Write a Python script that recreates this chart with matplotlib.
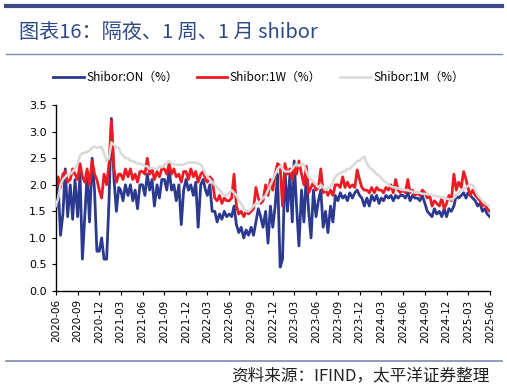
import matplotlib.pyplot as plt
import pandas as pd

plt.rcParams['font.family'] = ['Noto Sans CJK SC', 'DejaVu Sans']

# three readings per month (1st, 11th, 21st), 2020-06 .. 2025-05, plus 2025-06-01
on_rate = [
    1.55, 2.0, 1.05,  1.45, 2.3, 1.4,  2.0, 1.35, 2.1,  1.4, 2.2, 0.6,
    1.4, 2.2, 1.3,  2.5, 1.9, 0.75,  0.75, 1.0, 0.6,  0.6, 1.7, 3.25,
    2.1, 1.5, 1.95,  1.9, 1.7, 2.0,  1.8, 2.0, 1.7,  1.9, 1.55, 2.0,
    2.0, 1.8, 2.2,  1.9, 2.1, 1.6,  2.0, 1.75, 2.1,  2.1, 1.9, 2.3,
    1.9, 2.0, 1.7,  2.0, 1.25, 1.9,  2.1, 1.9, 2.0,  1.8, 2.05, 1.2,
    2.0, 2.1, 1.9,  1.8, 2.0, 1.5,  1.5, 1.3, 1.45,  1.35, 1.5, 1.4,
    1.45, 1.4, 1.6,  1.25, 1.1, 1.2,  1.0, 1.15, 1.05,  1.2, 1.05, 1.3,
    1.55, 1.4, 1.2,  1.5, 0.9, 1.6,  1.2, 1.6, 2.2,  0.45, 0.6, 2.3,
    1.5, 2.2, 1.3,  2.45, 1.6, 0.85,  1.9, 1.3, 2.2,  1.5, 1.0, 1.9,
    1.4, 1.7, 1.9,  1.2, 1.5, 1.1,  1.6, 1.3, 1.8,  1.7, 1.85, 1.75,
    1.8, 1.7, 1.85,  1.75, 1.85, 1.9,  1.8, 1.75, 1.6,  1.75, 1.6, 1.8,
    1.7, 1.8, 1.65,  1.75, 1.7, 1.8,  1.75, 1.8, 1.7,  1.8, 1.75, 1.8,
    1.8, 1.75, 1.85,  1.7, 1.8, 1.75,  1.75, 1.7, 1.8,  1.65, 1.5, 1.45,
    1.4, 1.55, 1.45,  1.5, 1.4, 1.55,  1.4, 1.55, 1.5,  1.6, 1.8, 1.75,
    1.8, 1.85, 1.75,  1.85, 1.8, 1.75,  1.7, 1.6, 1.65,  1.5, 1.55, 1.45,
    1.4,
]
w1_rate = [
    1.9, 2.15, 1.95,  2.2, 2.25, 2.05,  2.1, 2.3, 2.2,  2.1, 2.4, 2.15,
    2.05, 2.3, 2.0,  2.45, 2.2, 2.1,  1.9, 1.75, 2.2,  2.0, 2.4, 3.2,
    2.3, 2.05, 2.2,  2.2, 2.1, 2.3,  2.15, 2.3, 2.1,  2.2, 2.05, 2.25,
    2.25, 2.2, 2.5,  2.2, 2.3, 2.1,  2.25, 2.15, 2.3,  2.3, 2.2, 2.4,
    2.2, 2.3, 2.15,  2.2, 2.05, 2.25,  2.25, 2.1, 2.3,  2.15, 2.25, 2.05,
    2.2, 2.25, 2.1,  2.05, 2.15, 2.1,  1.75, 1.7, 1.8,  1.65, 1.75, 1.7,
    1.7, 1.75, 2.2,  1.6, 1.45, 1.5,  1.4, 1.5, 1.45,  1.5, 1.55, 1.95,
    1.75, 1.65, 1.7,  2.0, 1.8, 2.1,  1.9, 2.2, 2.4,  2.35, 1.6, 2.4,
    2.2, 2.3, 2.1,  2.35, 2.2, 2.45,  2.2, 2.0, 2.35,  1.85, 1.95, 2.05,
    1.9, 1.95, 2.3,  1.85, 1.9, 1.8,  1.9, 1.8, 2.0,  2.0, 1.95, 2.15,
    1.95, 2.05, 1.95,  2.0, 1.95, 2.28,  2.1, 1.95, 1.9,  1.9, 1.85, 1.95,
    1.85, 1.95, 1.9,  1.9, 1.85, 1.95,  1.9, 2.0, 1.85,  2.1, 1.9, 1.85,
    1.9, 1.85, 2.1,  1.85, 1.9, 1.8,  1.85, 1.8, 1.9,  1.85, 1.75, 1.8,
    1.6, 1.7, 1.65,  1.6, 1.75, 1.55,  1.65, 1.8, 1.7,  2.2, 1.9, 2.05,
    1.95, 2.25, 2.1,  1.95, 1.8, 1.9,  1.8, 1.75, 1.7,  1.6, 1.65, 1.55,
    1.5,
]
m1_rate = [
    1.6, 1.75, 2.0,  2.1, 2.15, 2.2,  2.2, 2.25, 2.3,  2.4, 2.55, 2.6,
    2.6, 2.62, 2.65,  2.7, 2.72, 2.7,  2.7, 2.72, 2.6,  2.45, 2.5, 2.8,
    2.75, 2.7, 2.7,  2.6, 2.55, 2.5,  2.5, 2.45, 2.45,  2.42, 2.4, 2.4,
    2.38, 2.35, 2.35,  2.3, 2.32, 2.3,  2.3, 2.35, 2.33,  2.38, 2.4, 2.45,
    2.4, 2.38, 2.38,  2.38, 2.37, 2.38,  2.4, 2.42, 2.42,  2.42, 2.42, 2.4,
    2.38, 2.3, 2.2,  2.15, 2.1, 2.05,  2.0, 1.95, 1.9,  1.85, 1.8, 1.8,
    1.85, 1.9, 1.85,  1.8, 1.7, 1.65,  1.55, 1.5, 1.5,  1.55, 1.6, 1.65,
    1.65, 1.7, 1.75,  1.8, 1.9, 2.0,  2.1, 2.2, 2.3,  2.35, 2.3, 2.25,
    2.25, 2.25, 2.3,  2.35, 2.4, 2.35,  2.4, 2.38, 2.25,  2.15, 2.1, 2.05,
    2.0, 1.95, 2.0,  1.95, 1.9, 1.95,  1.95, 2.05, 2.15,  2.2, 2.22, 2.25,
    2.25, 2.3, 2.3,  2.35, 2.4, 2.45,  2.45, 2.5, 2.53,  2.4, 2.33, 2.3,
    2.25, 2.2, 2.18,  2.12, 2.08, 2.05,  2.0, 1.97, 1.95,  1.95, 1.93, 1.92,
    1.9, 1.9, 1.9,  1.88, 1.87, 1.85,  1.85, 1.85, 1.83,  1.83, 1.82, 1.82,
    1.8, 1.8, 1.78,  1.77, 1.76, 1.75,  1.74, 1.73, 1.72,  1.75, 1.8, 1.85,
    1.9, 1.92, 1.95,  1.98, 2.0, 2.0,  1.9, 1.8, 1.75,  1.7, 1.65, 1.62,
    1.6,
]
labels = ['Shibor:ON（%）', 'Shibor:1W（%）', 'Shibor:1M（%）']
colors = ['#2B3990', '#ED1C24', '#D9D9D9']

months = pd.date_range('2020-06-01', '2025-05-01', freq='MS')
dates = []
for m in months:
    for d in (0, 10, 20):
        dates.append(m + pd.Timedelta(days=d))
dates.append(pd.Timestamp('2025-06-01'))

fig = plt.figure(figsize=(5.07, 3.88), dpi=100)
ax = fig.add_axes([0.110, 0.250, 0.857, 0.479])

ax.plot(dates, on_rate, color=colors[0], lw=2, label=labels[0], zorder=1)
ax.plot(dates, w1_rate, color=colors[1], lw=2, label=labels[1], zorder=2)
ax.plot(dates, m1_rate, color=colors[2], lw=1.8, label=labels[2], zorder=3)

ax.set_ylim(0, 3.5)
ax.set_yticks([0, 0.5, 1.0, 1.5, 2.0, 2.5, 3.0, 3.5])
ax.yaxis.set_major_formatter(plt.FormatStrFormatter('%.1f'))
ax.set_xlim(pd.Timestamp('2020-06-01'), pd.Timestamp('2025-06-03'))
ticks = pd.date_range('2020-06-01', '2025-06-01', freq='3MS')
ax.set_xticks(ticks)
ax.set_xticklabels([t.strftime('%Y-%m') for t in ticks], rotation=90, fontsize=7.5,
                   family='DejaVu Sans')
ax.tick_params(axis='y', labelsize=8, length=3, direction='out')
ax.tick_params(axis='x', length=3, direction='out', pad=3)
for lab in ax.get_yticklabels():
    lab.set_family('DejaVu Sans')
for s in ['top', 'right']:
    ax.spines[s].set_visible(False)
ax.spines['left'].set_linewidth(1)
ax.spines['bottom'].set_linewidth(1)

fig.legend(loc='center', bbox_to_anchor=(0.51, 0.80), ncol=3, frameon=False,
           fontsize=8.5, handlelength=2.6, handletextpad=0.2, columnspacing=1.6)

# header / footer decoration
fig.add_artist(plt.Line2D([0.012, 0.99], [0.985, 0.985], color='#3E4A89', lw=3))
fig.add_artist(plt.Line2D([0.012, 0.99], [0.861, 0.861], color='#8088B8', lw=1))
fig.add_artist(plt.Line2D([0.012, 0.99], [0.070, 0.070], color='#8088B8', lw=1.2))
fig.text(0.038, 0.917, '图表16：隔夜、1 周、1 月 shibor', fontsize=14.5, color='#2E4A86',
         va='center', ha='left')
fig.text(0.966, 0.032, '资料来源：IFIND，太平洋证券整理', fontsize=12, color='#222222',
         va='center', ha='right', style='italic')

fig.savefig('out.png', dpi=100)
